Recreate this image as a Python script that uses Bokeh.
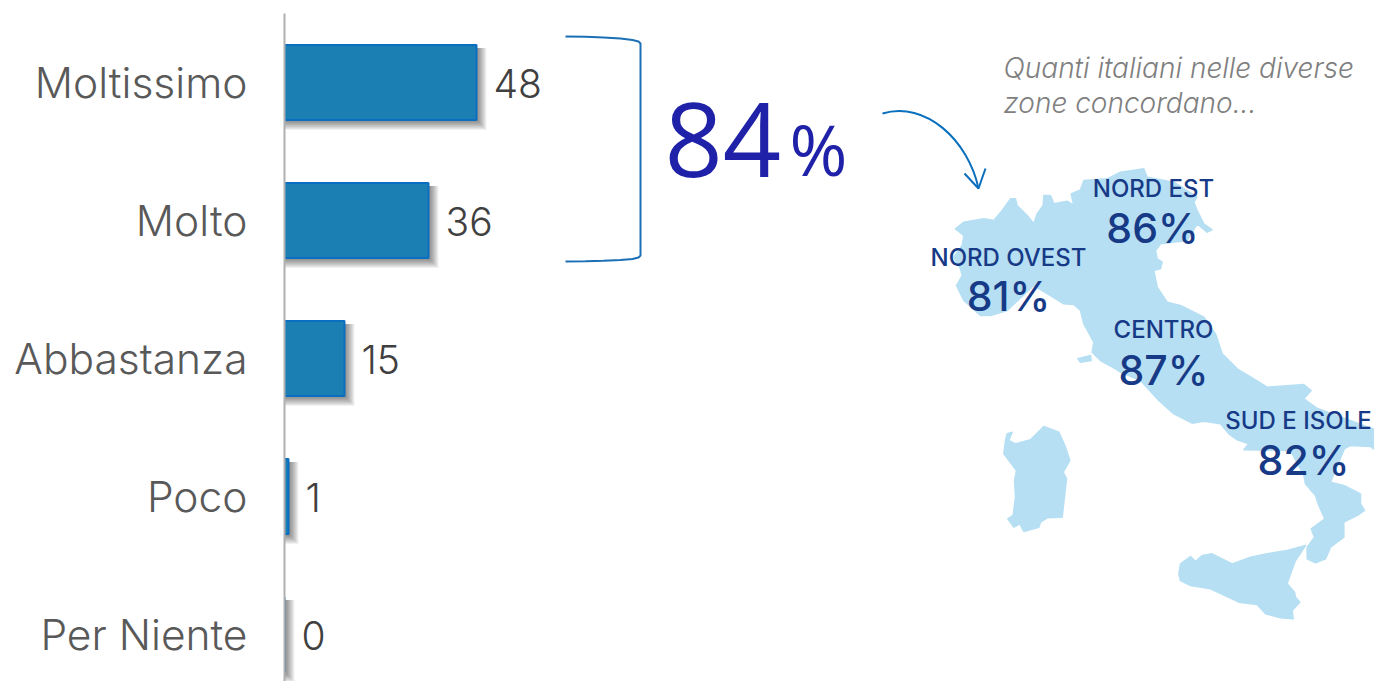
from bokeh.plotting import figure
from bokeh.models import Range1d, LinearAxis, FixedTicker
from bokeh.core.properties import value
from bokeh.embed import file_html
from bokeh.resources import INLINE

categories = ["Moltissimo", "Molto", "Abbastanza", "Poco", "Per Niente"]
values = [48, 36, 15, 1, 0]
total_label = "84"
note_lines = ["Quanti italiani nelle diverse", "zone concordano..."]
regions = ["NORD EST", "NORD OVEST", "CENTRO", "SUD E ISOLE"]
region_values = ["86%", "81%", "87%", "82%"]
region_name_pos = [(1153, 188), (1008, 257), (1163, 329), (1298, 420)]
region_value_pos = [(1152, 227), (1008, 295), (1163, 369), (1303, 459)]

# outlines in reference pixels
z1 = [(105,205),(130,185),(190,175),(220,180),(245,150),(270,115),(285,115),(290,135),(320,165),(340,190),(350,160),(368,135),(370,105),(390,105),(400,130),(440,122),(460,135),(452,100),(480,88),(490,60),(560,55),(600,35),(670,25),(680,50),(760,65),(830,110),(820,125),(830,150),(850,190),(875,208),(860,215),(830,190),(800,240),(720,250),(705,270),(710,295),(725,305),(720,325),(700,330),(710,380),(740,425),(780,435),(850,470),(885,520),(905,580),(950,625),(1000,655),(1040,680),(1150,672),(1172,690),(1150,715)]
heel = [(1317,408),(1377,430),(1390,443),(1390,463),(1382,455),(1370,446),(1350,445),(1344,448)]
z2a = [(1020,245),(1060,255),(1110,280),(1110,310),(1122,330),(1105,342),(1060,365),(1060,410),(1020,440),(1005,475),(975,487),(950,475),(950,440),(972,410),(962,385),(1003,355),(985,315),(975,285),(945,250),(940,225),(900,150),(760,148),(775,130),(740,118),(715,100),(690,70),(640,62),(605,68),(550,40),(505,0)]
z1b = [(660,660),(600,635),(585,625),(540,600),(515,575),(520,545),(490,490),(480,450),(460,432),(430,430),(390,405),(340,375),(260,450),(210,465),(180,465),(130,420),(108,375),(125,345),(120,325),(100,290),(125,255),(130,225)]
main = [(920+x/3,160+y/3) for x,y in z1] + heel + [(990+x/3,400+y/3) for x,y in z2a] + [(920+x/3,160+y/3) for x,y in z1b]
elba = [(920+x/3,160+y/3) for x,y in [(472,595),(510,585),(512,600),(480,605)]]
sard = [(990+x/3,400+y/3) for x,y in [(50,100),(65,95),(55,120),(75,130),(120,118),(160,78),(205,95),(225,140),(238,180),(218,215),(228,235),(215,350),(170,352),(150,365),(145,380),(100,393),(88,370),(70,380),(52,355),(68,345),(75,290),(72,240),(78,210),(40,160),(45,120)]]
sici = [(990+x/3,400+y/3) for x,y in [(565,520),(570,490),(600,468),(615,483),(635,465),(665,460),(725,490),(780,470),(830,460),(890,450),(945,435),(915,480),(900,520),(890,550),(912,575),(915,590),(928,605),(905,630),(908,655),(870,652),(825,640),(800,612),(745,605),(660,565),(600,555),(570,540)]]

W, H = 1374, 681
FL, FT, FR, FB = 284, 0, 1374, 681
PXU = 4.0   # px per %
ROW = 138.0
Y0 = 82.0
p = figure(width=W, height=H, output_backend="svg", toolbar_location=None,
           x_range=Range1d(0, (FR-FL)/PXU),
           y_range=Range1d((FB-Y0)/ROW, (FT-Y0)/ROW),
           min_border_left=FL, min_border_right=0, min_border_top=0, min_border_bottom=0,
           x_axis_location=None, y_axis_location=None, outline_line_color=None)
p.grid.visible = False
p.extra_x_ranges["px"] = Range1d(FL, FR)
p.extra_y_ranges["px"] = Range1d(FB, FT)

ax = LinearAxis(ticker=FixedTicker(ticks=list(range(len(categories)))),
                major_label_overrides={i: c for i, c in enumerate(categories)},
                major_tick_line_color=None, minor_tick_line_color=None,
                axis_line_color="#b0b0b0", axis_line_width=2,
                bounds=((13-Y0)/ROW, (FB-Y0)/ROW),
                major_label_standoff=31,
                major_label_text_font="Inter Light", major_label_text_font_size="42.5px",
                major_label_text_color="#595959")
p.add_layout(ax, "left")

def px(pts):
    return [a for a, _ in pts], [b for _, b in pts]

mapc = "#B6DFF3"
for poly in (main, elba, sard, sici):
    xs, ys = px(poly)
    p.patch(xs, ys, x_range_name="px", y_range_name="px", fill_color=mapc, line_color=mapc,
            line_width=1.5, line_join="round")

ypos = list(range(len(categories)))
bar_h = 75/ROW
for k in range(1, 11):
    p.hbar(y=[y + (3 + k)/(2*ROW) for y in ypos], height=bar_h + (k-3)/ROW, left=0,
           right=[v + k/PXU for v in values], fill_color="#000000", fill_alpha=0.055, line_color=None)
p.hbar(y=ypos, height=bar_h, left=0, right=values, fill_color="#1C7FB4",
       line_color="#0A6FC0", line_width=2)

p.text(x=values, y=ypos, text=[str(v) for v in values], x_offset=17, y_offset=1,
       text_font=value("Inter Light"), text_font_size="39px", text_color="#404040",
       text_align="left", text_baseline="middle")

# bracket
bx = [565, 585, 603, 620, 632, 638, 640, 640, 638, 632, 620, 603, 585, 565]
by = [36, 36.3, 37, 38, 39.5, 41, 43, 255, 257, 258.5, 259.5, 260.3, 260.8, 261]
p.line(bx, by, x_range_name="px", y_range_name="px", line_color="#1A6FB5", line_width=2)
# arrow
p.bezier(x0=[882], y0=[113], x1=[978], y1=[188], cx0=[925], cy0=[100], cx1=[968], cy1=[140],
         x_range_name="px", y_range_name="px", line_color="#0A70BE", line_width=2)
p.line([964, 978, 985], [173, 188, 168], x_range_name="px", y_range_name="px",
       line_color="#0A70BE", line_width=2)

p.text([664], [139], text=[total_label], x_range_name="px", y_range_name="px",
       text_font=value("Open Sans"), text_font_size="102px", text_color="#1F22A8",
       text_baseline="alphabetic")
p.text([789], [148], text=["%"], x_range_name="px", y_range_name="px",
       text_font=value("Open Sans"), text_font_size="70px", text_color="#1F22A8",
       text_baseline="alphabetic")

p.text([1003, 1003], [67, 102], text=note_lines, x_range_name="px", y_range_name="px",
       text_font=value("Inter Light"), text_font_style="italic", text_font_size="28px", text_color="#7F7F7F",
       text_baseline="middle")

p.text([a for a,_ in region_name_pos], [b for _,b in region_name_pos], text=regions,
       x_range_name="px", y_range_name="px", text_font=value("Inter Medium"), text_font_size="24px",
       text_color="#173A87", text_align="center", text_baseline="middle")
p.text([a for a,_ in region_value_pos], [b for _,b in region_value_pos], text=region_values,
       x_range_name="px", y_range_name="px", text_font=value("Inter Medium"), text_font_size="41px",
       text_color="#173A87", text_align="center", text_baseline="middle")

open("out.html", "w").write(file_html(p, INLINE))
